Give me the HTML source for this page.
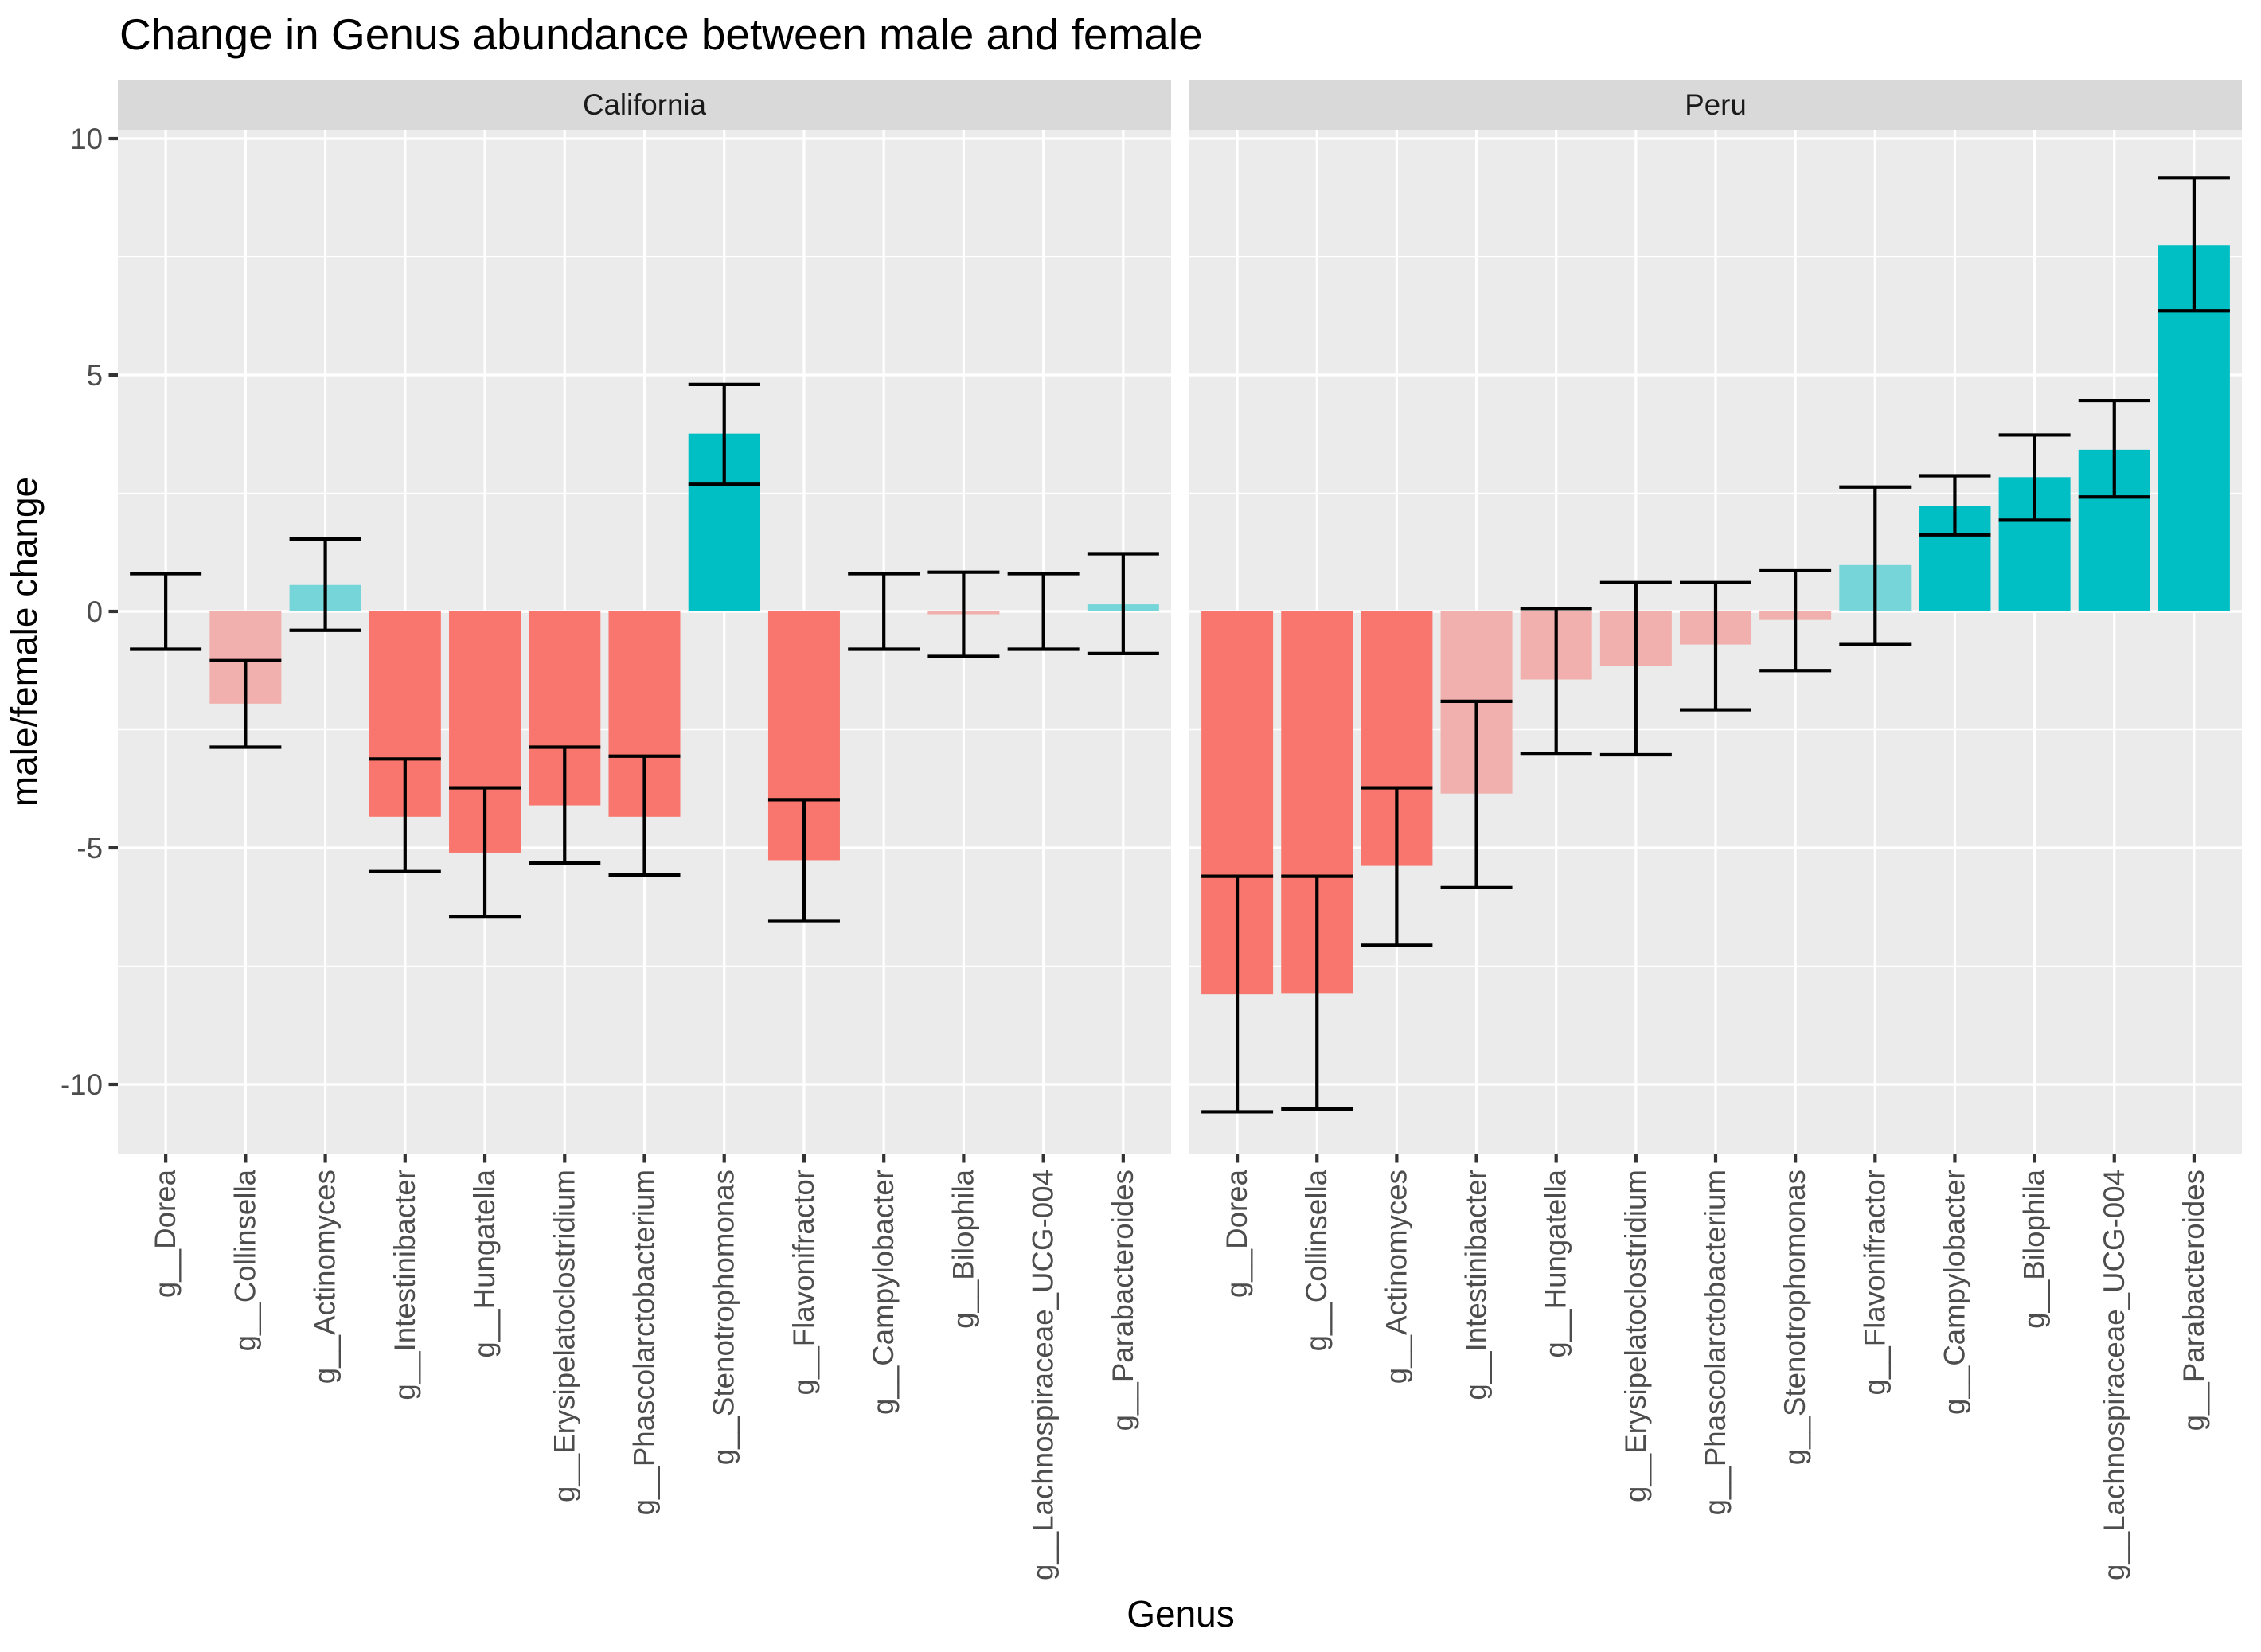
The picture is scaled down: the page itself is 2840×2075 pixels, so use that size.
<!DOCTYPE html>
<html><head><meta charset="utf-8"><style>
html,body{margin:0;padding:0;background:#fff;}
svg{display:block;font-family:"Liberation Sans",Arial,sans-serif;}
</style></head><body>
<svg id="chart" width="2840" height="2075" viewBox="0 0 2840 2075" xmlns="http://www.w3.org/2000/svg">
<text x="150" y="62" font-size="55" fill="#000">Change in Genus abundance between male and female</text>
<text x="1483" y="2043" font-size="46" text-anchor="middle" fill="#000">Genus</text>
<text transform="translate(46,806) rotate(-90)" font-size="46" text-anchor="middle" fill="#000">male/female change</text>
<g id="plot"></g>
</svg>
<script>
const categories = ["g__Dorea","g__Collinsella","g__Actinomyces","g__Intestinibacter","g__Hungatella","g__Erysipelatoclostridium","g__Phascolarctobacterium","g__Stenotrophomonas","g__Flavonifractor","g__Campylobacter","g__Bilophila","g__Lachnospiraceae_UCG-004","g__Parabacteroides"];
const caliValues = [0,-1.95,0.56,-4.34,-5.1,-4.1,-4.34,3.76,-5.26,0,-0.06,0,0.15];
const caliLow = [-0.8,-2.87,-0.4,-5.5,-6.45,-5.32,-5.57,2.69,-6.54,-0.8,-0.95,-0.8,-0.89];
const caliHigh = [0.8,-1.04,1.53,-3.12,-3.73,-2.87,-3.06,4.8,-3.98,0.8,0.83,0.8,1.22];
const caliSig = [1,0,0,1,1,1,1,1,1,1,0,1,0];
const peruCategories = ["g__Dorea","g__Collinsella","g__Actinomyces","g__Intestinibacter","g__Hungatella","g__Erysipelatoclostridium","g__Phascolarctobacterium","g__Stenotrophomonas","g__Flavonifractor","g__Campylobacter","g__Bilophila","g__Lachnospiraceae_UCG-004","g__Parabacteroides"];
const peruValues = [-8.1,-8.07,-5.38,-3.85,-1.44,-1.16,-0.7,-0.18,0.98,2.23,2.84,3.42,7.74];
const peruLow = [-10.58,-10.52,-7.06,-5.84,-3.0,-3.03,-2.08,-1.25,-0.7,1.62,1.93,2.42,6.36];
const peruHigh = [-5.6,-5.6,-3.73,-1.9,0.06,0.61,0.61,0.86,2.63,2.87,3.73,4.46,9.17];
const peruSig = [1,1,1,0,0,0,0,0,0,1,1,1,1];
const yTicks = [10,5,0,-5,-10];
const yTickLabels = ["10","5","0","-5","-10"];
const panelNames = ["California","Peru"];

const NS="http://www.w3.org/2000/svg";
const root=document.getElementById('plot');
function mk(tag,attrs,parent){const e=document.createElementNS(NS,tag);for(const k in attrs)e.setAttribute(k,attrs[k]);(parent||root).appendChild(e);return e;}
const PT=163, PB=1449;
function yS(v){return 768-v*59.4;}
const panels=[{x0:148,x1:1471,cats:categories,vals:caliValues,lo:caliLow,hi:caliHigh,sig:caliSig},
              {x0:1494,x1:2816,cats:peruCategories,vals:peruValues,lo:peruLow,hi:peruHigh,sig:peruSig}];
panels.forEach((p,pi)=>{
  const n=p.cats.length;
  const step=(p.x1-p.x0)/(n-1+1.2);
  const xS=i=>p.x0+step*(0.6+i);
  const g=mk('g',{});
  
  
  const bg=mk('rect',{x:p.x0,y:PT,width:p.x1-p.x0,height:PB-PT,fill:'#EBEBEB'},g);
  
  
  const strip=mk('rect',{x:p.x0,y:100,width:p.x1-p.x0,height:63,fill:'#D9D9D9'},g);
  
  
  const st=mk('text',{x:(p.x0+p.x1)/2,y:144,'font-size':36.7,'text-anchor':'middle',fill:'#1A1A1A'},g);
  st.textContent=panelNames[pi];
  
  
  for(let i=0;i<yTicks.length-1;i++){
    const m=(yTicks[i]+yTicks[i+1])/2;
    const l=mk('line',{x1:p.x0,x2:p.x1,y1:yS(m),y2:yS(m),stroke:'#fff','stroke-width':1.6},g);
    
    
  }
  yTicks.forEach(v=>{
    const l=mk('line',{x1:p.x0,x2:p.x1,y1:yS(v),y2:yS(v),stroke:'#fff','stroke-width':3.2},g);
    
    
  });
  for(let i=0;i<n;i++){
    const l=mk('line',{x1:xS(i),x2:xS(i),y1:PT,y2:PB,stroke:'#fff','stroke-width':3.2},g);
    
    
  }
  for(let i=0;i<n;i++){
    const v=p.vals[i];
    const pos=v>=0;
    const col=pos?(p.sig[i]?'#00BFC4':'#76D5D8'):(p.sig[i]?'#F8766D':'#F1B0AD');
    const y0=yS(Math.max(v,0)), y1=yS(Math.min(v,0));
    const r=mk('rect',{x:xS(i)-45,y:y0,width:90,height:Math.max(y1-y0,0),fill:col},g);
    
    
    const eg=mk('g',{stroke:'#000','stroke-width':4.2,fill:'none'},g);
    
    
    mk('line',{x1:xS(i),x2:xS(i),y1:yS(p.hi[i]),y2:yS(p.lo[i])},eg);
    mk('line',{x1:xS(i)-45,x2:xS(i)+45,y1:yS(p.hi[i]),y2:yS(p.hi[i])},eg);
    mk('line',{x1:xS(i)-45,x2:xS(i)+45,y1:yS(p.lo[i]),y2:yS(p.lo[i])},eg);
    const t=mk('line',{x1:xS(i),x2:xS(i),y1:PB,y2:PB+11.5,stroke:'#333','stroke-width':4.2},g);
    
    
    const tl=mk('text',{transform:`translate(${xS(i)+12},${PB+20}) rotate(-90)`,'font-size':36.7,'text-anchor':'end',fill:'#4D4D4D'},g);
    tl.textContent=p.cats[i];
    
    
  }
});
yTicks.forEach((v,i)=>{
  const t=mk('line',{x1:136.5,x2:148,y1:yS(v),y2:yS(v),stroke:'#333','stroke-width':4.2});
  
  
  const tl=mk('text',{x:129,y:yS(v)+13,'font-size':36.7,'text-anchor':'end',fill:'#4D4D4D'});
  tl.textContent=yTickLabels[i];
  
  
});
</script>
</body></html>
